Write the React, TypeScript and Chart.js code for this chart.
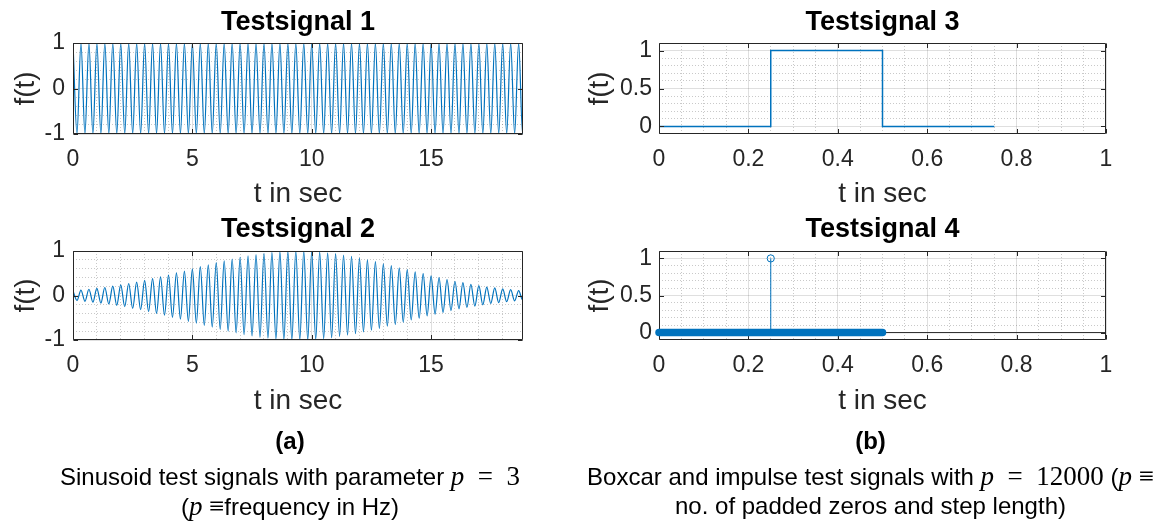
import React, { useEffect, useRef } from "react";
import { Chart, registerables } from "chart.js";

Chart.register(...registerables);

const BLUE = "#0072BD";
const AXIS = "#262626";
const SANS = "'Liberation Sans', Arial, Helvetica, sans-serif";
const SERIF = "'Liberation Serif', 'Times New Roman', serif";

// ---- Testsignal 1 & 2: times of the extrema (s) ----
const sigTime = [
  0, 0.167, 0.333, 0.5, 0.667, 0.833,
  1, 1.167, 1.333, 1.5, 1.667, 1.833,
  2, 2.167, 2.333, 2.5, 2.667, 2.833,
  3, 3.167, 3.333, 3.5, 3.667, 3.833,
  4, 4.167, 4.333, 4.5, 4.667, 4.833,
  5, 5.167, 5.333, 5.5, 5.667, 5.833,
  6, 6.167, 6.333, 6.5, 6.667, 6.833,
  7, 7.167, 7.333, 7.5, 7.667, 7.833,
  8, 8.167, 8.333, 8.5, 8.667, 8.833,
  9, 9.167, 9.333, 9.5, 9.667, 9.833,
  10, 10.167, 10.333, 10.5, 10.667, 10.833,
  11, 11.167, 11.333, 11.5, 11.667, 11.833,
  12, 12.167, 12.333, 12.5, 12.667, 12.833,
  13, 13.167, 13.333, 13.5, 13.667, 13.833,
  14, 14.167, 14.333, 14.5, 14.667, 14.833,
  15, 15.167, 15.333, 15.5, 15.667, 15.833,
  16, 16.167, 16.333, 16.5, 16.667, 16.833,
  17, 17.167, 17.333, 17.5, 17.667, 17.833,
  18, 18.167, 18.333, 18.5, 18.667, 18.833,
  18.85,
];

// Testsignal 1: constant-amplitude sinusoid (extremum values)
const sig1Values = [
  1, -1, 1, -1, 1, -1, 1, -1, 1, -1, 1, -1,
  1, -1, 1, -1, 1, -1, 1, -1, 1, -1, 1, -1,
  1, -1, 1, -1, 1, -1, 1, -1, 1, -1, 1, -1,
  1, -1, 1, -1, 1, -1, 1, -1, 1, -1, 1, -1,
  1, -1, 1, -1, 1, -1, 1, -1, 1, -1, 1, -1,
  1, -1, 1, -1, 1, -1, 1, -1, 1, -1, 1, -1,
  1, -1, 1, -1, 1, -1, 1, -1, 1, -1, 1, -1,
  1, -1, 1, -1, 1, -1, 1, -1, 1, -1, 1, -1,
  1, -1, 1, -1, 1, -1, 1, -1, 1, -1, 1, -1,
  1, -1, 1, -1, 1, -1,
  -0.95,
];

// Testsignal 2: sinusoid under a bell-shaped envelope (extremum values)
const sig2Values = [
  0.1, -0.11, 0.12, -0.13, 0.14, -0.15, 0.16, -0.17, 0.18, -0.19,
  0.21, -0.22, 0.24, -0.25, 0.27, -0.29, 0.3, -0.32, 0.34, -0.36,
  0.38, -0.4, 0.42, -0.44, 0.46, -0.49, 0.51, -0.53, 0.55, -0.58,
  0.6, -0.62, 0.65, -0.67, 0.69, -0.71, 0.74, -0.76, 0.78, -0.8,
  0.82, -0.84, 0.86, -0.88, 0.89, -0.91, 0.92, -0.94, 0.95, -0.96,
  0.97, -0.98, 0.985, -0.99, 0.995, -1, 1,
  -1, 1, -0.995, 0.99, -0.985, 0.98, -0.97, 0.96, -0.95, 0.94,
  -0.92, 0.91, -0.89, 0.88, -0.86, 0.84, -0.82, 0.8, -0.78, 0.76,
  -0.74, 0.71, -0.69, 0.67, -0.65, 0.62, -0.6, 0.58, -0.55, 0.53,
  -0.51, 0.49, -0.46, 0.44, -0.42, 0.4, -0.38, 0.36, -0.34, 0.32,
  -0.3, 0.29, -0.27, 0.25, -0.24, 0.22, -0.21, 0.19, -0.18, 0.17,
  -0.16, 0.15, -0.14, 0.13, -0.12, 0.11, -0.1,
  -0.09,
];

// ---- Testsignal 3: boxcar ----
const boxTime = [0, 0.25, 0.5, 0.75];
const boxValue = [0, 1, 0, 0];

// ---- Testsignal 4: impulse (stem) ----
const impulseTime = [0.25];
const impulseValue = [1];
const zeroSampleTime = [0, 0.5];
const zeroSampleValue = [0, 0];
const baselineTime = [0, 1];
const baselineValue = [0, 0];

// ---- ticks ----
const sinXRange = [0, 18.85];
const sinYRange = [-1, 1];
const sinXTicks = [0, 5, 10, 15];
const sinXMinor = [1, 2, 3, 4, 6, 7, 8, 9, 11, 12, 13, 14, 16, 17, 18];
const sinYTicks = [-1, 0, 1];
const sinYMinor = [-0.8, -0.6, -0.4, -0.2, 0.2, 0.4, 0.6, 0.8];

const boxXRange = [0, 1];
const boxYRange = [-0.1, 1.1];
const boxXTicks = [0, 0.2, 0.4, 0.6, 0.8, 1];
const boxXMinor = [0.05, 0.1, 0.15, 0.25, 0.3, 0.35, 0.45, 0.5, 0.55, 0.65, 0.7, 0.75, 0.85, 0.9, 0.95];
const boxYTicks = [0, 0.5, 1];
const boxYMinor = [0.1, 0.2, 0.3, 0.4, 0.6, 0.7, 0.8, 0.9];

const pts = (xs: number[], ys: number[]) => xs.map((x, i) => ({ x, y: ys[i] }));

function drawBox(chart: any) {
  const { ctx, chartArea: a, scales } = chart;
  const L = Math.round(a.left) + 0.5;
  const R = Math.round(a.right) - 0.5;
  const T = Math.round(a.top) + 0.5;
  const B = Math.round(a.bottom) - 0.5;
  const tl = 4.5;
  ctx.save();
  ctx.strokeStyle = AXIS;
  ctx.lineWidth = 1;
  ctx.beginPath();
  ctx.rect(L, T, R - L, B - T);
  scales.x.ticks.forEach((t: any) => {
    const px = Math.round(scales.x.getPixelForValue(t.value)) + 0.5;
    ctx.moveTo(px, B);
    ctx.lineTo(px, B - tl);
    ctx.moveTo(px, T);
    ctx.lineTo(px, T + tl);
  });
  scales.y.ticks.forEach((t: any) => {
    const py = Math.round(scales.y.getPixelForValue(t.value)) + 0.5;
    ctx.moveTo(L, py);
    ctx.lineTo(L + tl, py);
    ctx.moveTo(R, py);
    ctx.lineTo(R - tl, py);
  });
  ctx.stroke();
  ctx.restore();
}

// Box, inward ticks and an axes-centred title (MATLAB style)
const boxPlugin = {
  id: "matlabBox",
  beforeDatasetsDraw(chart: any, _a: any, opts: any) {
    if (!opts.onTop) drawBox(chart);
  },
  afterDatasetsDraw(chart: any, _a: any, opts: any) {
    if (opts.onTop) drawBox(chart);
  },
  afterDraw(chart: any, _a: any, opts: any) {
    const { ctx, chartArea: a } = chart;
    ctx.save();
    ctx.fillStyle = "#000";
    ctx.font = `bold ${opts.titleSize}px ${SANS}`;
    ctx.textAlign = "center";
    ctx.textBaseline = "middle";
    ctx.fillText(opts.title, (a.left + a.right) / 2, opts.titleY);
    ctx.restore();
  },
};

type Spec = {
  left: number;
  top: number;
  width: number;
  height: number;
  title: string;
  titleY: number;
  chartTop: number;
  xHeight: number;
  yWidth: number;
  yTitlePad: number;
  yTickPad: number;
  padRight: number;
  xRange: number[];
  yRange: number[];
  xTicks: number[];
  xMinor: number[];
  yTicks: number[];
  yMinor: number[];
  datasets: any[];
  boxOnTop: boolean;
};

function buildConfig(p: Spec): any {
  const tickFont = { family: SANS, size: 23 };
  const labelFont = { family: SANS, size: 28 };
  const setTicks = (arr: number[]) => (s: any) => {
    s.ticks = arr.map((v) => ({ value: v }));
  };
  const minorGrid = { color: "rgba(38,38,38,0.25)", drawTicks: false, lineWidth: 1 };
  return {
    type: "line",
    data: { datasets: p.datasets },
    options: {
      animation: false,
      responsive: false,
      maintainAspectRatio: false,
      events: [],
      layout: { padding: { left: 0, right: p.padRight, top: p.chartTop, bottom: 1 } },
      plugins: {
        legend: { display: false },
        tooltip: { enabled: false },
        title: { display: false },
        matlabBox: { onTop: p.boxOnTop, title: p.title, titleY: p.titleY, titleSize: 27 },
      },
      scales: {
        x: {
          type: "linear",
          position: "bottom",
          min: p.xRange[0],
          max: p.xRange[1],
          afterBuildTicks: setTicks(p.xTicks),
          afterFit: (s: any) => {
            s.height = p.xHeight;
          },
          ticks: {
            font: tickFont,
            color: AXIS,
            padding: 12,
            maxRotation: 0,
            autoSkip: false,
            callback: (v: any) => String(v),
          },
          grid: { color: "rgba(38,38,38,0.15)", drawTicks: false },
          border: { display: false },
          title: {
            display: true,
            text: "t in sec",
            color: AXIS,
            font: labelFont,
            padding: { top: 0, bottom: 0 },
          },
        },
        xm: {
          type: "linear",
          position: "bottom",
          min: p.xRange[0],
          max: p.xRange[1],
          afterBuildTicks: setTicks(p.xMinor),
          afterFit: (s: any) => {
            s.height = 0;
          },
          ticks: { display: false },
          grid: minorGrid,
          border: { display: false, dash: [1, 2] },
        },
        y: {
          type: "linear",
          position: "left",
          min: p.yRange[0],
          max: p.yRange[1],
          afterBuildTicks: setTicks(p.yTicks),
          afterFit: (s: any) => {
            s.width = p.yWidth;
          },
          ticks: {
            font: tickFont,
            color: AXIS,
            padding: p.yTickPad,
            autoSkip: false,
            callback: (v: any) => String(v),
          },
          grid: { color: "rgba(38,38,38,0.15)", drawTicks: false },
          border: { display: false },
          title: {
            display: true,
            text: "f(t)",
            color: AXIS,
            font: labelFont,
            padding: { top: p.yTitlePad, bottom: 0 },
          },
        },
        ym: {
          type: "linear",
          position: "left",
          min: p.yRange[0],
          max: p.yRange[1],
          afterBuildTicks: setTicks(p.yMinor),
          afterFit: (s: any) => {
            s.width = 0;
          },
          ticks: { display: false },
          grid: minorGrid,
          border: { display: false, dash: [1, 2] },
        },
      },
    },
    plugins: [boxPlugin],
  };
}

function ChartPanel({ spec }: { spec: Spec }) {
  const ref = useRef<HTMLCanvasElement>(null);
  useEffect(() => {
    const chart = new Chart(ref.current as HTMLCanvasElement, buildConfig(spec));
    return () => chart.destroy();
  }, []);
  return (
    <canvas
      ref={ref}
      width={spec.width}
      height={spec.height}
      style={{
        position: "absolute",
        left: spec.left,
        top: spec.top,
        width: spec.width,
        height: spec.height,
        display: "block",
      }}
    />
  );
}

const sinLine = (vals: number[]) => ({
  data: pts(sigTime, vals),
  borderColor: BLUE,
  borderWidth: 1.2,
  pointRadius: 0,
  fill: false,
  cubicInterpolationMode: "monotone",
});

const leftCol = { left: 0, width: 580, yWidth: 73, yTitlePad: 9, yTickPad: 8, padRight: 57 };
const rightCol = { left: 580, width: 581, yWidth: 79, yTitlePad: 3, yTickPad: 7, padRight: 55 };
const topRow = { top: 0, height: 212, titleY: 22.5, chartTop: 43, xHeight: 77 };
const botRow = { top: 207, height: 212, titleY: 22.5, chartTop: 44, xHeight: 78 };

const panels: Spec[] = [
  {
    ...leftCol,
    ...topRow,
    title: "Testsignal 1",
    xRange: sinXRange,
    yRange: sinYRange,
    xTicks: sinXTicks,
    xMinor: sinXMinor,
    yTicks: sinYTicks,
    yMinor: sinYMinor,
    datasets: [sinLine(sig1Values)],
    boxOnTop: true,
  },
  {
    ...leftCol,
    ...botRow,
    title: "Testsignal 2",
    xRange: sinXRange,
    yRange: sinYRange,
    xTicks: sinXTicks,
    xMinor: sinXMinor,
    yTicks: sinYTicks,
    yMinor: sinYMinor,
    datasets: [sinLine(sig2Values)],
    boxOnTop: true,
  },
  {
    ...rightCol,
    ...topRow,
    title: "Testsignal 3",
    xRange: boxXRange,
    yRange: boxYRange,
    xTicks: boxXTicks,
    xMinor: boxXMinor,
    yTicks: boxYTicks,
    yMinor: boxYMinor,
    datasets: [
      {
        data: pts(boxTime, boxValue),
        borderColor: BLUE,
        borderWidth: 1.5,
        pointRadius: 0,
        stepped: "before",
        fill: false,
      },
    ],
    boxOnTop: true,
  },
  {
    ...rightCol,
    ...botRow,
    title: "Testsignal 4",
    xRange: boxXRange,
    yRange: boxYRange,
    xTicks: boxXTicks,
    xMinor: boxXMinor,
    yTicks: boxYTicks,
    yMinor: boxYMinor,
    datasets: [
      {
        data: pts(impulseTime, impulseValue),
        showLine: false,
        pointRadius: 3.6,
        pointBorderWidth: 1,
        pointBorderColor: BLUE,
        pointBackgroundColor: "rgba(255,255,255,0)",
        borderColor: BLUE,
      },
      {
        data: [
          { x: impulseTime[0], y: 0 },
          { x: impulseTime[0], y: impulseValue[0] },
        ],
        borderColor: BLUE,
        borderWidth: 1,
        pointRadius: 0,
      },
      {
        data: pts(zeroSampleTime, zeroSampleValue),
        borderColor: BLUE,
        borderWidth: 7.5,
        borderCapStyle: "round",
        pointRadius: 0,
        clip: false,
      },
      {
        data: pts(baselineTime, baselineValue),
        borderColor: AXIS,
        borderWidth: 1,
        pointRadius: 0,
      },
    ],
    boxOnTop: false,
  },
];

const capBase: React.CSSProperties = {
  position: "absolute",
  textAlign: "center",
  whiteSpace: "nowrap",
  fontFamily: SANS,
  fontSize: 24,
  lineHeight: "24px",
  color: "#000",
};
const mathI: React.CSSProperties = { fontFamily: SERIF, fontStyle: "italic", fontSize: 27 };
const mathR: React.CSSProperties = { fontFamily: SERIF, fontSize: 27 };

export default function App() {
  return (
    <div
      style={{
        position: "absolute",
        left: 0,
        top: 0,
        width: 1161,
        height: 529,
        background: "#fff",
        overflow: "hidden",
      }}
    >
      {panels.map((p, i) => (
        <ChartPanel key={i} spec={p} />
      ))}
      <div style={{ ...capBase, left: 0, width: 580, top: 429, fontWeight: "bold" }}>(a)</div>
      <div style={{ ...capBase, left: 0, width: 580, top: 464 }}>
        Sinusoid test signals with parameter <span style={mathI}>p</span>
        <span style={mathR}>{"\u2002=\u20023"}</span>
      </div>
      <div style={{ ...capBase, left: 0, width: 580, top: 494 }}>
        (<span style={mathI}>p</span> <span style={mathR}>≡</span>frequency in Hz)
      </div>
      <div style={{ ...capBase, left: 580, width: 581, top: 429, fontWeight: "bold" }}>(b)</div>
      <div style={{ ...capBase, left: 580, width: 581, top: 464 }}>
        Boxcar and impulse test signals with <span style={mathI}>p</span>
        <span style={mathR}>{"\u2002=\u200212000"}</span> (<span style={mathI}>p</span>{" "}
        <span style={mathR}>≡</span>
      </div>
      <div style={{ ...capBase, left: 580, width: 581, top: 494 }}>
        no. of padded zeros and step length)
      </div>
    </div>
  );
}
